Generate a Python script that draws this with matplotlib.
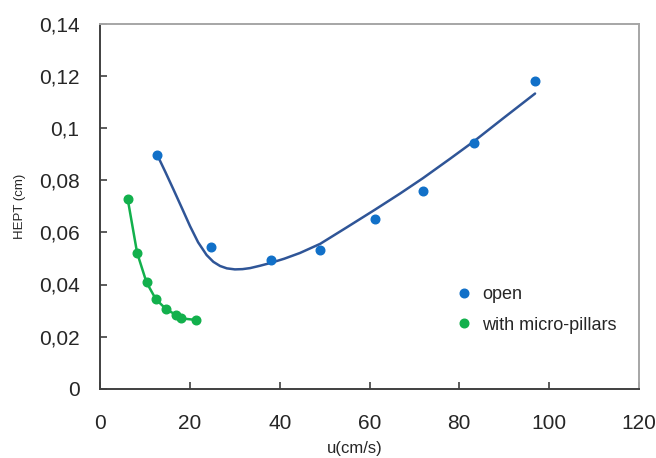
import matplotlib
matplotlib.use("Agg")
import matplotlib.pyplot as plt
from matplotlib.ticker import FuncFormatter

# Data
open_u = [12.7, 24.6, 38.0, 49.0, 61.2, 71.9, 83.3, 96.9]
open_hept = [0.0897, 0.0544, 0.0495, 0.0533, 0.0652, 0.0759, 0.0942, 0.1183]

fit_u = [12.7, 14.5, 16.3, 18.2, 20.0, 21.8, 23.7, 25.2, 26.7, 28.2, 30.0, 31.7,
         33.4, 35.6, 37.8, 41.0, 44.5, 49.0, 54.9, 61.2, 66.8, 71.9, 77.9, 83.3,
         89.8, 96.9]
fit_hept = [0.0897, 0.0832, 0.0765, 0.0693, 0.0624, 0.0562, 0.0513, 0.0487, 0.0471,
            0.0462, 0.0458, 0.0459, 0.0463, 0.0472, 0.0482, 0.0499, 0.0521, 0.0556,
            0.0619, 0.0687, 0.0749, 0.0808, 0.0882, 0.0950, 0.1038, 0.1133]

pillar_u = [6.1, 8.2, 10.3, 12.4, 14.7, 16.8, 18.0, 21.3]
pillar_hept = [0.0729, 0.0522, 0.0408, 0.0343, 0.0305, 0.0284, 0.0270, 0.0264]

x_ticks = [0, 20, 40, 60, 80, 100, 120]
y_ticks = [0, 0.02, 0.04, 0.06, 0.08, 0.10, 0.12, 0.14]

BLUE_PTS = "#1170c8"
BLUE_LINE = "#2f5597"
GREEN = "#12b04c"

tick_font = ["Liberation Sans Narrow", "Liberation Sans", "DejaVu Sans"]
reg_font = ["Liberation Sans", "DejaVu Sans"]

fig = plt.figure(figsize=(6.56, 4.58), dpi=100)
ax = fig.add_axes([100.3 / 656, 1 - 388.7 / 458, 538.4 / 656, 364.7 / 458])

ax.plot(fit_u, fit_hept, color=BLUE_LINE, lw=1.8, zorder=2,
        solid_joinstyle="round", solid_capstyle="round")
ax.plot(open_u, open_hept, linestyle="none", marker="o", ms=6.2,
        color=BLUE_PTS, label="open", zorder=3)
ax.plot(pillar_u, pillar_hept, color=GREEN, lw=1.8, zorder=2,
        solid_joinstyle="round")
ax.plot(pillar_u, pillar_hept, linestyle="none", marker="o", ms=6.2,
        color=GREEN, label="with micro-pillars", zorder=3)

ax.set_xlim(0, 120)
ax.set_ylim(0, 0.14)
ax.set_xticks(x_ticks)
ax.set_yticks(y_ticks)

def yfmt(v, pos):
    s = f"{v:.2f}".rstrip("0").rstrip(".")
    return s.replace(".", ",")

ax.yaxis.set_major_formatter(FuncFormatter(yfmt))
ax.xaxis.set_major_formatter(FuncFormatter(lambda v, p: f"{v:.0f}"))

ax.tick_params(direction="in", length=5, width=1.2, color="#404040",
               labelcolor="#262626", labelsize=15)
ax.tick_params(axis="y", pad=15)
ax.tick_params(axis="x", pad=18)
for lab in ax.get_xticklabels() + ax.get_yticklabels():
    lab.set_family(tick_font)

for side in ["left", "bottom"]:
    ax.spines[side].set_color("#404040")
    ax.spines[side].set_linewidth(1.4)
for side in ["top", "right"]:
    ax.spines[side].set_color("#a6a6a6")
    ax.spines[side].set_linewidth(1.4)

ax.set_ylabel("HEPT (cm)", fontsize=9.5, family=reg_font, color="#262626")
ax.yaxis.set_label_coords((20 - 100.3) / 538.4, 0.5)
ax.yaxis.label.set_va("center")
ax.set_xlabel("u(cm/s)", fontsize=12, family=reg_font, color="#262626")
ax.xaxis.set_label_coords((355 - 100.3) / 538.4, (388.7 - 449) / 364.7)
ax.xaxis.label.set_va("center")

leg = ax.legend(loc="upper left", bbox_to_anchor=((455 - 100.3) / 538.4, (388.7 - 286) / 364.7),
                frameon=False, borderpad=0, borderaxespad=0, handlelength=1.0,
                handletextpad=0.5, labelspacing=0.75, prop={"family": reg_font, "size": 13},
                markerscale=1.0)
for t in leg.get_texts():
    t.set_color("#262626")

fig.savefig("out.png", dpi=100)
